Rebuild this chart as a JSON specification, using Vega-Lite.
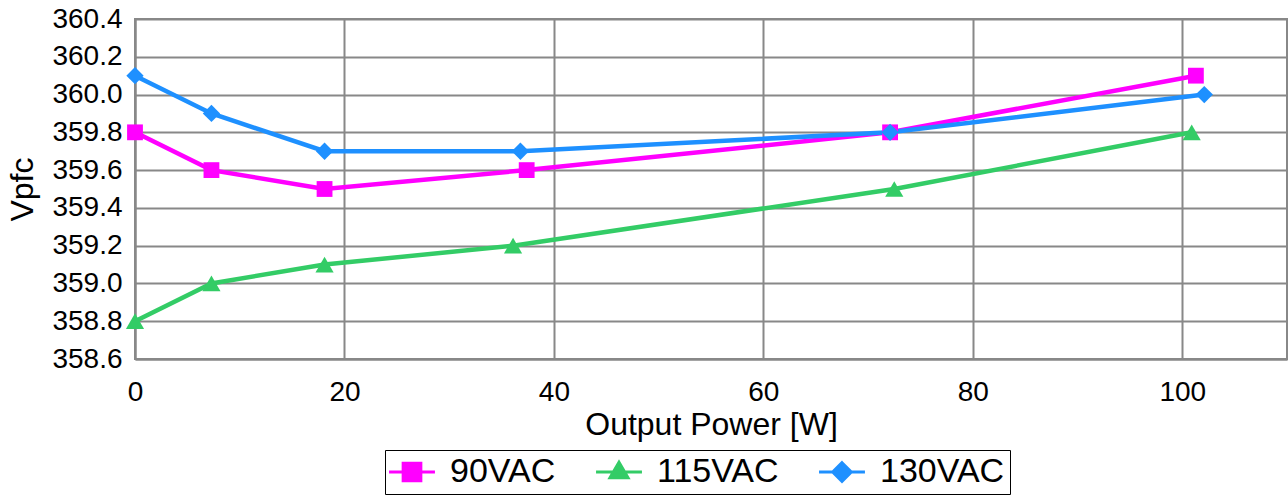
{
  "$schema": "https://vega.github.io/schema/vega-lite/v6.json",
  "width": 1152,
  "height": 340,
  "autosize": {"type": "none"},
  "padding": {"left": 135, "top": 19, "right": 1, "bottom": 136},
  "background": "white",
  "config": {
    "font": "Liberation Sans",
    "view": {"stroke": "#888888", "strokeWidth": 2},
    "axis": {
      "gridColor": "#888888",
      "gridWidth": 2,
      "gridOpacity": 1,
      "domainColor": "#888888",
      "domainWidth": 2,
      "ticks": false,
      "labelFlush": false,
      "labelFont": "Liberation Sans",
      "labelFontSize": 28,
      "labelColor": "#000000",
      "titleFont": "Liberation Sans",
      "titleFontSize": 32,
      "titleFontWeight": "normal",
      "titleColor": "#000000"
    }
  },
  "data": {
    "values": [
      {"p": 0, "v": 359.8, "s": "90VAC"},
      {"p": 7.3, "v": 359.6, "s": "90VAC"},
      {"p": 18.1, "v": 359.5, "s": "90VAC"},
      {"p": 37.4, "v": 359.6, "s": "90VAC"},
      {"p": 72.1, "v": 359.8, "s": "90VAC"},
      {"p": 101.3, "v": 360.1, "s": "90VAC"},
      {"p": 0, "v": 358.8, "s": "115VAC"},
      {"p": 7.3, "v": 359.0, "s": "115VAC"},
      {"p": 18.1, "v": 359.1, "s": "115VAC"},
      {"p": 36.1, "v": 359.2, "s": "115VAC"},
      {"p": 72.5, "v": 359.5, "s": "115VAC"},
      {"p": 100.9, "v": 359.8, "s": "115VAC"},
      {"p": 0, "v": 360.1, "s": "130VAC"},
      {"p": 7.3, "v": 359.9, "s": "130VAC"},
      {"p": 18.1, "v": 359.7, "s": "130VAC"},
      {"p": 36.8, "v": 359.7, "s": "130VAC"},
      {"p": 72.1, "v": 359.8, "s": "130VAC"},
      {"p": 102.1, "v": 360.0, "s": "130VAC"}
    ]
  },
  "encoding": {
    "x": {
      "field": "p", "type": "quantitative",
      "scale": {"domain": [0, 110], "nice": false, "zero": false},
      "axis": {"values": [0, 20, 40, 60, 80, 100], "title": "Output Power [W]", "labelPadding": 19, "titlePadding": 3}
    },
    "y": {
      "field": "v", "type": "quantitative",
      "scale": {"domain": [358.6, 360.4], "nice": false, "zero": false},
      "axis": {"values": [358.6, 358.8, 359.0, 359.2, 359.4, 359.6, 359.8, 360.0, 360.2, 360.4], "format": ".1f", "title": "Vpfc", "labelPadding": 13, "titlePadding": 12}
    },
    "color": {
      "field": "s", "type": "nominal",
      "scale": {"domain": ["90VAC", "115VAC", "130VAC"], "range": ["#ff00ff", "#33cc66", "#1e90ff"]},
      "legend": {
        "title": null,
        "orient": "none",
        "direction": "horizontal",
        "columns": 3,
        "legendX": 250,
        "legendY": 431,
        "strokeColor": "#000000",
        "padding": 5,
        "labelFontSize": 34,
        "labelFont": "Liberation Sans",
        "labelColor": "#000000",
        "symbolSize": 900,
        "symbolOffset": 5,
        "symbolStrokeWidth": 3,
        "symbolOpacity": 1,
        "columnPadding": 34,
        "labelOffset": 21,
        "encode": {
          "symbols": {
            "update": {
              "shape": {"signal": "datum.value === '90VAC' ? 'M-1.53,0H1.53M-0.59,-0.59H0.59V0.59H-0.59Z' : datum.value === '115VAC' ? 'M-1.53,0H1.53M0,-0.65L0.6,0.38H-0.6Z' : 'M-1.53,0H1.53M0,-0.62L0.62,0L0,0.62L-0.62,0Z'"},
              "fill": {"signal": "scale('color', datum.value)"},
              "stroke": {"signal": "scale('color', datum.value)"},
              "fillOpacity": {"value": 1},
              "strokeOpacity": {"value": 1},
              "strokeWidth": {"value": 3}
            }
          }
        }
      }
    }
  },
  "layer": [
    {"mark": {"type": "line", "strokeWidth": 4.5}},
    {
      "transform": [{"filter": "datum.s === '90VAC'"}],
      "mark": {"type": "point", "filled": true, "opacity": 1, "shape": "square", "size": 250}
    },
    {
      "transform": [{"filter": "datum.s === '115VAC'"}],
      "mark": {"type": "point", "filled": true, "opacity": 1, "shape": "triangle-up", "size": 330}
    },
    {
      "transform": [{"filter": "datum.s === '130VAC'"}],
      "mark": {"type": "point", "filled": true, "opacity": 1, "shape": "diamond", "size": 300}
    }
  ]
}
